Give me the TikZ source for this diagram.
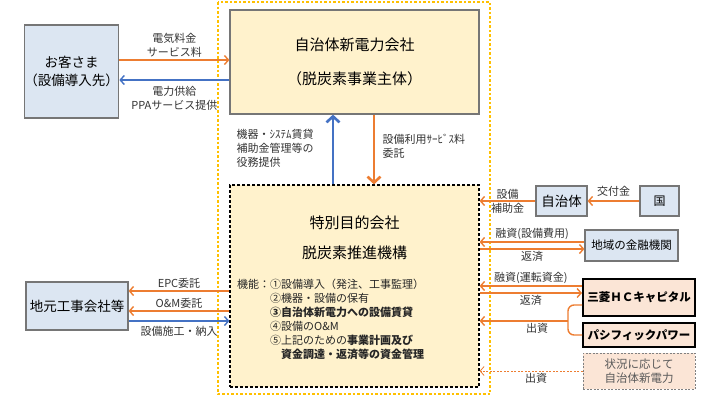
\documentclass[tikz,border=0pt]{standalone}
\usepackage{fontspec}
\setmainfont{Noto Sans CJK JP}
\usetikzlibrary{arrows.meta,positioning}
\definecolor{orangeline}{RGB}{237,125,49}
\definecolor{blueline}{RGB}{68,114,196}
\definecolor{boxyellow}{RGB}{255,242,204}
\definecolor{boxblue}{RGB}{220,230,242}
\definecolor{boxsalmon}{RGB}{251,229,214}
\definecolor{framegold}{RGB}{255,192,0}
\definecolor{boxgray}{RGB}{118,118,118}
\begin{document}
\begin{tikzpicture}[x=1pt,y=-1pt,
  bluebox/.style={draw=boxgray,line width=1.2pt,fill=boxblue,align=center,inner sep=0pt},
  yellowbox/.style={draw=boxgray,line width=1.2pt,fill=boxyellow,inner sep=0pt},
  pinkbox/.style={draw=black,line width=2pt,fill=boxsalmon,inner sep=0pt,font=\fontsize{11.5}{14}\selectfont\bfseries},
  oarr/.style={draw=orangeline,line width=1.4pt,-{Straight Barb[length=4pt,width=9pt]}},
  barr/.style={draw=blueline,line width=1.4pt,-{Straight Barb[length=4pt,width=9pt]}},
  bigtip/.style={line width=2.6pt,-{Straight Barb[length=6pt,width=13pt]}},
  lbl/.style={font=\fontsize{11}{14}\selectfont,align=center,inner sep=1.5pt,text=black!80}]
\useasboundingbox (0,0) rectangle (715,400);
\draw[framegold,line width=2.5pt,dash pattern=on 2.5pt off 2pt] (218,2) rectangle (490,394);
\node[bluebox,minimum width=89pt,minimum height=93pt,font=\fontsize{13.5}{18}\selectfont] (cust) at (71.5,71.5) {お客さま\\（設備導入先）};
\node[yellowbox,minimum width=249pt,minimum height=104pt,align=center,font=\fontsize{15}{34}\selectfont] (comp) at (354.5,62) {自治体新電力会社\\（脱炭素事業主体）};
\node[yellowbox,draw=black,dash pattern=on 3pt off 2pt,minimum width=249pt,minimum height=202pt] (spc) at (354.5,286) {};
\node[font=\fontsize{15}{30}\selectfont,align=center,inner sep=0pt] (spctitle) at (354.5,238) {特別目的会社\\脱炭素推進機構};
\node[anchor=north west,font=\fontsize{11}{14}\selectfont,align=left,inner sep=0pt,text=black!85] (spclist) at (237,279) {機能：①設備導入（発注、工事監理）\\
\hspace*{3em}②機器・設備の保有\\
\hspace*{3em}\textbf{③自治体新電力への設備賃貸}\\
\hspace*{3em}④設備のO\&M\\
\hspace*{3em}⑤上記のための\textbf{事業計画及び}\\
\hspace*{4em}\textbf{資金調達・返済等の資金管理}};
\node[bluebox,minimum width=102pt,minimum height=48pt,font=\fontsize{13.5}{16}\selectfont] (local) at (77,306) {地元工事会社等};
\node[bluebox,minimum width=51pt,minimum height=30pt,font=\fontsize{13.5}{16}\selectfont] (jichi) at (561.5,201) {自治体};
\node[bluebox,minimum width=39pt,minimum height=30pt,font=\fontsize{12}{14}\selectfont] (kuni) at (659.5,201) {国};
\node[bluebox,minimum width=93pt,minimum height=31pt,font=\fontsize{11.5}{14}\selectfont] (bank) at (631.5,245.5) {地域の金融機関};
\node[pinkbox,minimum width=112pt,minimum height=37pt] (mhc) at (639,297.5) {三菱ＨＣキャピタル};
\node[pinkbox,minimum width=112pt,minimum height=24pt] (pac) at (639,335) {パシフィックパワー};
\node[draw=gray,dash pattern=on 2pt off 1.5pt,line width=1pt,fill=boxsalmon,minimum width=112pt,minimum height=36pt,align=center,text=black!65,font=\fontsize{11.5}{14}\selectfont,inner sep=0pt] (opt) at (639,371) {状況に応じて\\自治体新電力};
\draw[oarr] (cust.east|-0,60) -- node[lbl,above] (lfee) {電気料金\\サービス料} (comp.west|-0,60);
\draw[barr] (comp.west|-0,80) -- node[lbl,below=4pt] (lppa) {電力供給\\PPAサービス提供} (cust.east|-0,80);
\draw[barr,bigtip] (spc.north-|333,0) -- (comp.south-|333,0);
\draw[oarr,bigtip] (comp.south-|374,0) -- (spc.north-|374,0);
\node[lbl,anchor=west,align=left] (lrent) at (235,148) {機器・ｼｽﾃﾑ賃貸\\補助金管理等の\\役務提供};
\node[lbl,anchor=west,align=left] (luse) at (381,146) {設備利用ｻｰﾋﾞｽ料\\委託};
\draw[oarr] (spc.west|-0,291) -- node[lbl,above] (lepc) {EPC委託} (local.east|-0,291);
\draw[oarr] (spc.west|-0,311) -- node[lbl,above] (lom) {O\&M委託} (local.east|-0,311);
\draw[barr] (local.east|-0,321) -- node[lbl,below=3pt] (lbuild) {設備施工・納入} (spc.west|-0,321);
\draw[oarr] (kuni.west) -- node[lbl,above=2pt] (lgrant) {交付金} (jichi.east);
\draw[oarr] (jichi.west) -- node[lbl] (lsub) {設備\\補助金} (spc.east|-jichi.west);
\draw[oarr] (bank.west|-0,242) -- node[lbl,above] (lloan) {融資(設備費用)} (spc.east|-0,242);
\draw[oarr] (spc.east|-0,249) -- node[lbl,below] (lrepay) {返済} (bank.west|-0,249);
\draw[oarr] (mhc.west|-0,286) -- node[lbl,above] (lwork) {融資(運転資金)} (spc.east|-0,286);
\draw[oarr] (spc.east|-0,293) -- node[lbl,below] (lrepay2) {返済} (mhc.west|-0,293);
\coordinate (brtip) at (568,321);
\draw[orangeline,line width=1.4pt,rounded corners=6pt] (mhc.west|-0,305) -- (568,305) -- (568,335) -- (pac.west|-0,335);
\draw[oarr] (brtip) -- node[lbl,below,pos=0.35] (linvest) {出資} (spc.east|-brtip);
\draw[oarr,line width=0.8pt,dash pattern=on 2pt off 1.5pt] (opt.west) -- node[lbl,below,pos=0.45] (linvest2) {出資} (spc.east|-opt.west);
\end{tikzpicture}
\end{document}
